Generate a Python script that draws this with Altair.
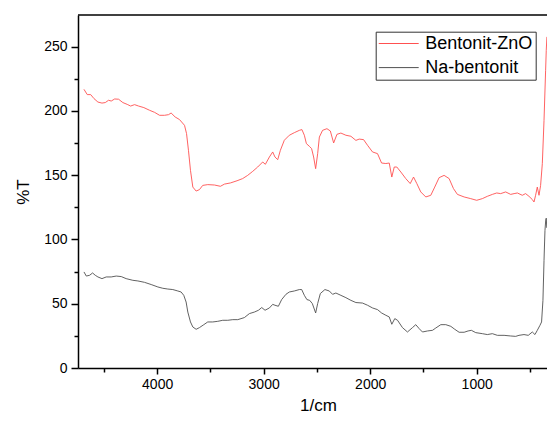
import altair as alt
import pandas as pd

# Bentonit-ZnO (red) : wavenumber (1/cm), %T
wn_zno = [4687, 4656, 4624, 4593, 4556, 4518, 4487, 4456, 4431, 4399, 4362, 4322, 4281, 4249,
          4212, 4174, 4125, 4071, 4024, 3977, 3931, 3893, 3869, 3831, 3790, 3743, 3724, 3706,
          3687, 3665, 3634, 3603, 3572, 3525, 3462, 3406, 3368, 3312, 3250, 3197, 3150, 3103,
          3056, 3009, 2984, 2946, 2915, 2894, 2868, 2843, 2806, 2759, 2712, 2665, 2641, 2618,
          2599, 2571, 2550, 2531, 2512, 2493, 2477, 2447, 2406, 2374, 2343, 2312, 2275, 2228,
          2181, 2134, 2103, 2062, 2025, 1978, 1931, 1893, 1853, 1821, 1797, 1774, 1750, 1712,
          1666, 1624, 1593, 1562, 1525, 1478, 1431, 1394, 1353, 1306, 1259, 1218, 1181, 1118,
          1056, 1000, 947, 900, 853, 812, 775, 728, 681, 649, 618, 572, 541, 509, 478, 462,
          447, 431, 415, 400, 384, 368, 353, 347, 341]
t_zno = [216.7, 212.6, 212.6, 209.5, 206.8, 206.0, 206.4, 208.2, 207.6, 209.2, 209.0, 206.4, 205.0, 203.7,
         204.8, 203.7, 202.5, 200.4, 198.8, 196.5, 196.5, 197.0, 198.3, 195.2, 193.2, 188.7, 182.3, 169.3,
         153.7, 140.7, 137.6, 138.7, 142.0, 142.6, 142.3, 141.3, 143.0, 143.9, 145.6, 147.3, 149.8, 152.9,
         156.3, 160.2, 158.4, 164.1, 168.0, 164.1, 162.0, 169.3, 177.1, 181.0, 183.0, 184.8, 185.4, 181.0,
         174.5, 172.4, 170.6, 164.1, 155.0, 166.7, 179.6, 184.8, 186.1, 184.3, 175.0, 181.7, 182.7, 181.0,
         180.2, 177.0, 178.0, 177.6, 173.2, 168.0, 166.7, 159.4, 159.0, 159.4, 148.5, 156.3, 156.3, 152.4,
         147.3, 143.4, 148.5, 143.4, 136.9, 133.0, 134.3, 140.7, 148.0, 149.8, 147.3, 139.5, 135.0, 133.0,
         131.7, 130.4, 131.7, 133.5, 135.0, 136.1, 135.6, 136.9, 135.0, 135.6, 136.1, 134.3, 135.6, 133.5, 131.0, 129.1,
         134.3, 140.7, 134.3, 142.0, 158.9, 192.6, 231.5, 247.0, 257.5]

# Na-bentonit (black)
wn_na = [4687, 4665, 4634, 4606, 4581, 4556, 4518, 4478, 4431, 4384, 4337, 4291, 4228, 4181,
         4118, 4056, 3993, 3947, 3900, 3853, 3806, 3775, 3750, 3728, 3712, 3687, 3665, 3634,
         3603, 3562, 3525, 3478, 3431, 3384, 3337, 3290, 3243, 3181, 3134, 3087, 3049, 3018,
         2987, 2946, 2915, 2894, 2862, 2831, 2791, 2759, 2712, 2665, 2643, 2618, 2594, 2568,
         2543, 2512, 2493, 2468, 2425, 2384, 2353, 2322, 2275, 2228, 2181, 2134, 2072, 2025,
         1978, 1931, 1893, 1853, 1821, 1797, 1769, 1743, 1697, 1650, 1603, 1572, 1540, 1509,
         1462, 1415, 1384, 1337, 1290, 1243, 1206, 1165, 1118, 1081, 1050, 1009, 947, 900,
         853, 806, 743, 681, 634, 603, 556, 516, 478, 453, 431, 406, 391, 378, 368, 359,
         352, 347, 342]
t_na = [74.7, 71.5, 72.1, 73.9, 72.1, 70.8, 69.5, 70.8, 70.8, 71.5, 71.1, 69.5, 68.2, 67.7,
        66.6, 64.9, 63.0, 62.0, 61.4, 61.0, 59.9, 59.1, 56.5, 51.3, 43.5, 35.8, 31.9, 30.1,
        31.4, 33.7, 35.8, 35.8, 36.3, 37.1, 37.1, 37.6, 37.6, 39.2, 42.3, 43.5, 44.9, 47.0,
        44.9, 46.7, 49.5, 48.8, 48.0, 53.2, 57.3, 59.1, 59.9, 61.0, 61.0, 56.5, 53.2, 52.6,
        50.1, 42.8, 50.1, 57.9, 61.0, 59.9, 57.3, 58.3, 56.5, 54.7, 52.6, 50.9, 50.5, 48.8,
        46.7, 45.4, 42.8, 41.0, 39.7, 34.0, 38.4, 37.1, 31.4, 28.0, 31.4, 33.7, 30.6, 28.0,
        28.8, 29.3, 31.1, 33.7, 33.7, 32.4, 30.1, 27.8, 27.8, 28.8, 29.3, 27.5, 26.7, 26.0,
        26.7, 25.4, 25.4, 24.9, 24.6, 25.4, 26.0, 25.4, 28.0, 26.0, 29.3, 33.2, 35.8, 52.6, 83.7, 107.0,
        115.0, 116.5, 109.0]

series_names = ["Bentonit-ZnO", "Na-bentonit"]
series_colors = ["#ff5050", "#505050"]

y_ticks = [0, 25, 50, 75, 100, 125, 150, 175, 200, 225, 250]
x_ticks = [500, 1000, 1500, 2000, 2500, 3000, 3500, 4000, 4500]

df = pd.concat([
    pd.DataFrame({"wn": wn_zno, "T": t_zno, "series": series_names[0]}),
    pd.DataFrame({"wn": wn_na, "T": t_na, "series": series_names[1]}),
])

FONT = "Liberation Sans"
W, H = 469, 353

lines = alt.Chart(df).mark_line(strokeWidth=0.9, interpolate="linear").encode(
    x=alt.X("wn:Q",
            scale=alt.Scale(domain=[4743, 340], nice=False, zero=False),
            axis=alt.Axis(values=x_ticks, format="d",
                          labelExpr="datum.value % 1000 == 0 ? datum.label : ''",
                          tickSize={"condition": {"test": "datum.value % 1000 == 0", "value": 6}, "value": 4},
                          title="1/cm", titleX=240, titleY=42, titleBaseline="alphabetic",
                          labelPadding=3)),
    y=alt.Y("T:Q",
            scale=alt.Scale(domain=[0, 274.5], nice=False),
            axis=alt.Axis(values=y_ticks,
                          labelExpr="datum.value % 50 == 0 ? datum.label : ''",
                          tickSize={"condition": {"test": "datum.value % 50 == 0", "value": 7}, "value": 4},
                          title="%T", titleX=-49.5, titleBaseline="alphabetic",
                          labelPadding=4)),
    color=alt.Color("series:N",
                    scale=alt.Scale(domain=series_names, range=series_colors),
                    title=None,
                    legend=alt.Legend(orient="none", legendX=297.7, legendY=16.7,
                                      symbolType="stroke", symbolSize=1600,
                                      symbolStrokeWidth=1, clipHeight=18.6, rowPadding=5.1,
                                      padding=2.5, strokeColor="#333333", fillColor="white",
                                      labelFontSize=18, labelFont=FONT, labelColor="#000000",
                                      labelOffset=6)),
)

top_border = alt.Chart(pd.DataFrame({"a": [0]})).mark_rule(color="#000000", strokeWidth=1.5).encode(
    x=alt.value(0), x2=alt.value(W), y=alt.value(0)
)

chart = alt.layer(lines, top_border).properties(
    width=W, height=H,
    autosize=alt.AutoSizeParams(type="none"),
    padding={"left": 70, "top": 7, "right": 0, "bottom": 45},
).configure_view(stroke=None).configure_axis(
    grid=False,
    domainColor="#000000", domainWidth=1.5,
    tickColor="#000000", tickWidth=1.5,
    labelFont=FONT, labelFontSize=14, labelColor="#000000",
    titleFont=FONT, titleFontSize=17, titleFontWeight="normal", titleColor="#000000",
)

chart.save("out.html", embed_options={"renderer": "svg", "actions": False})
